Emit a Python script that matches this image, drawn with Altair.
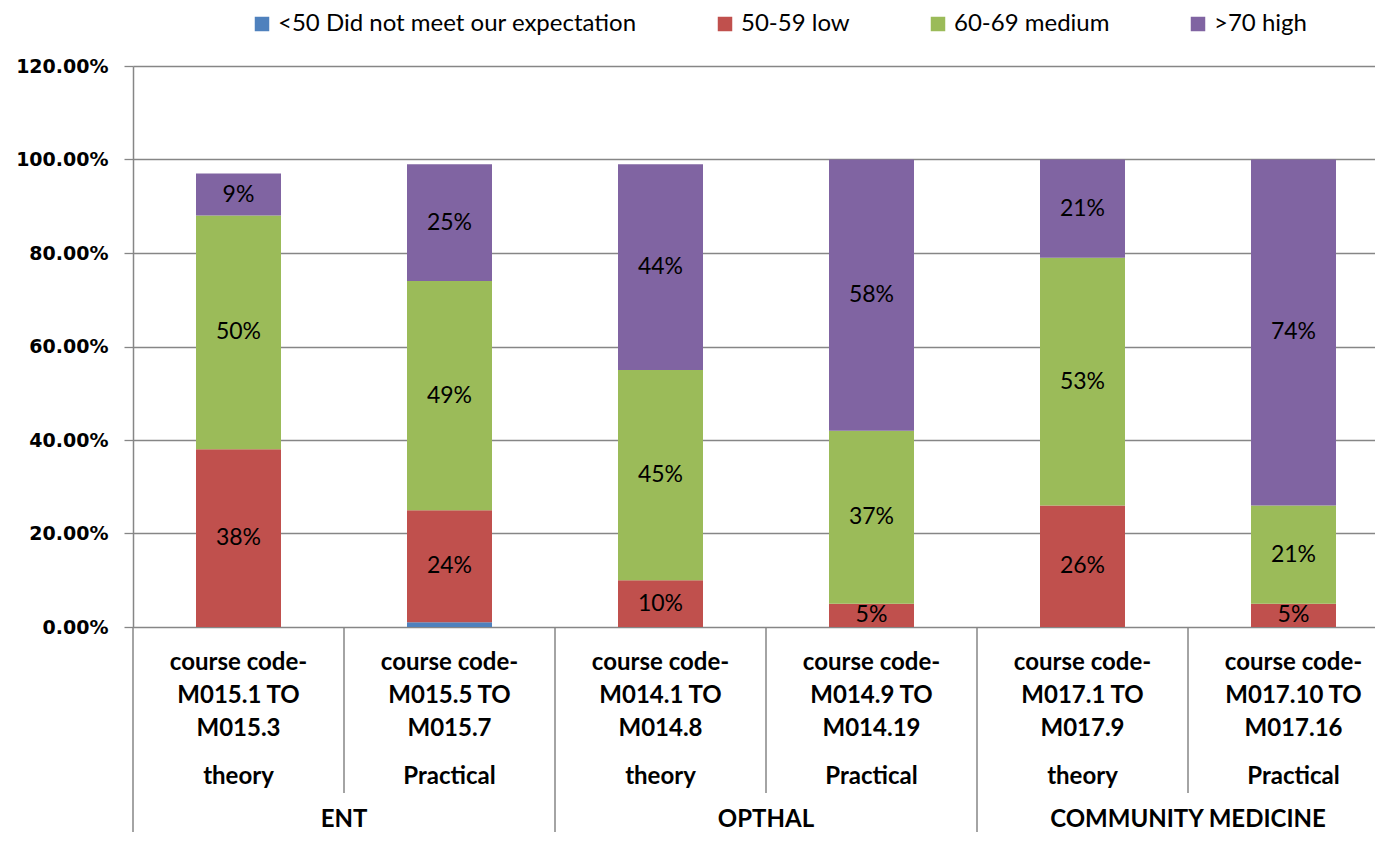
import altair as alt
import pandas as pd

# ---- data ----
course_line1 = ["course code-"] * 6
course_line2 = ["M015.1 TO", "M015.5 TO", "M014.1 TO", "M014.9 TO", "M017.1 TO", "M017.10 TO"]
course_line3 = ["M015.3", "M015.7", "M014.8", "M014.19", "M017.9", "M017.16"]
course_type = ["theory", "Practical", "theory", "Practical", "theory", "Practical"]
groups = ["ENT", "OPTHAL", "COMMUNITY MEDICINE"]
group_span = [2, 2, 2]

series = ["<50 Did not meet our expectation", "50-59 low", "60-69 medium", ">70 high"]
colors = ["#4F81BD", "#C0504D", "#9BBB59", "#8064A2"]
below_50 = [0.00, 0.01, 0.00, 0.00, 0.00, 0.00]
low_50_59 = [0.38, 0.24, 0.10, 0.05, 0.26, 0.05]
medium_60_69 = [0.50, 0.49, 0.45, 0.37, 0.53, 0.21]
high_70 = [0.09, 0.25, 0.44, 0.58, 0.21, 0.74]
y_ticks = [0, 0.2, 0.4, 0.6, 0.8, 1.0, 1.2]

# ---- tables ----
rows = []
for s_idx, (name, vals) in enumerate(zip(series, [below_50, low_50_59, medium_60_69, high_70])):
    for i, v in enumerate(vals):
        rows.append({"pos": i + 0.5, "series": name, "s_idx": s_idx, "value": v})
df = pd.DataFrame(rows)

cats = pd.DataFrame({
    "pos": [i + 0.5 for i in range(len(course_type))],
    "code": [f"{a}\n{b}\n{c}" for a, b, c in zip(course_line1, course_line2, course_line3)],
    "type": course_type,
})

g_pos, start = [], 0
for span in group_span:
    g_pos.append(start + span / 2)
    start += span
grp = pd.DataFrame({"pos": g_pos, "group": groups})

bounds = []
start = 0
for span in group_span:
    bounds.append({"pos": start, "level": "group"})
    for k in range(1, span):
        bounds.append({"pos": start + k, "level": "sub"})
    start += span
bnd = pd.DataFrame(bounds)
bnd = bnd[bnd["pos"] < 5.9]

GRAY = "#868686"
W, H = 1242, 561
xscale = alt.Scale(domain=[0, W / 211.0], nice=False, zero=False, padding=0)

bars = alt.Chart(df).mark_bar(size=85).encode(
    x=alt.X("pos:Q", scale=xscale, axis=None),
    y=alt.Y(
        "value:Q",
        stack="zero",
        scale=alt.Scale(domain=[0, 1.2], nice=False),
        axis=alt.Axis(
            values=y_ticks, format=".2%", title=None,
            grid=True, gridColor=GRAY, gridWidth=1.3,
            domainColor=GRAY, domainWidth=1.5,
            tickColor=GRAY, tickSize=9, tickWidth=1.3,
            labelFont="DejaVu Sans", labelFontWeight="bold", labelFontSize=19,
            labelColor="black", labelPadding=16,
        ),
    ),
    color=alt.Color(
        "series:N",
        scale=alt.Scale(domain=series, range=colors),
        legend=alt.Legend(
            title=None, orient="none", direction="horizontal",
            legendX=117, legendY=-54,
            symbolType="square", symbolSize=210, symbolStrokeWidth=0,
            labelFont="Lato", labelFontSize=24, labelColor="black",
            labelOffset=4, columnPadding=76, labelLimit=0,
        ),
    ),
    order=alt.Order("s_idx:Q"),
)

labels = alt.Chart(df).transform_stack(
    stack="value", groupby=["pos"], sort=[alt.SortField("s_idx")], as_=["y0", "y1"]
).transform_filter(
    "datum.s_idx > 0 && datum.value > 0"
).transform_calculate(
    mid="(datum.y0 + datum.y1) / 2",
    label="format(datum.value, '.0%')",
).mark_text(font="Lato", fontSize=23, color="black", baseline="middle").encode(
    x=alt.X("pos:Q", scale=xscale),
    y=alt.Y("mid:Q"),
    text="label:N",
)

rule_group = alt.Chart(bnd).transform_filter("datum.level == 'group'").mark_rule(
    color=GRAY, strokeWidth=1.5
).encode(x=alt.X("pos:Q", scale=xscale), y=alt.value(H), y2=alt.value(H + 205))

rule_sub = alt.Chart(bnd).transform_filter("datum.level == 'sub'").mark_rule(
    color=GRAY, strokeWidth=1.5
).encode(x=alt.X("pos:Q", scale=xscale), y=alt.value(H), y2=alt.value(H + 166))

code_text = alt.Chart(cats).mark_text(
    font="Lato", fontWeight="bold", fontSize=24, color="black",
    lineBreak="\n", lineHeight=33, baseline="middle",
).encode(x=alt.X("pos:Q", scale=xscale), y=alt.value(597), text="code:N")

type_text = alt.Chart(cats).mark_text(
    font="Lato", fontWeight="bold", fontSize=24, color="black", baseline="middle",
).encode(x=alt.X("pos:Q", scale=xscale), y=alt.value(711), text="type:N")

group_text = alt.Chart(grp).mark_text(
    font="Lato", fontWeight="bold", fontSize=24, color="black", baseline="middle",
).encode(x=alt.X("pos:Q", scale=xscale), y=alt.value(754), text="group:N")

chart = alt.layer(
    bars, labels, rule_group, rule_sub, code_text, type_text, group_text
).properties(
    width=W, height=H,
    autosize=alt.AutoSizeParams(type="none"),
    padding={"left": 125, "top": 58, "right": 0, "bottom": 205},
).configure_view(stroke=None)

chart.save("out.html", embed_options={"renderer": "svg", "actions": False})
